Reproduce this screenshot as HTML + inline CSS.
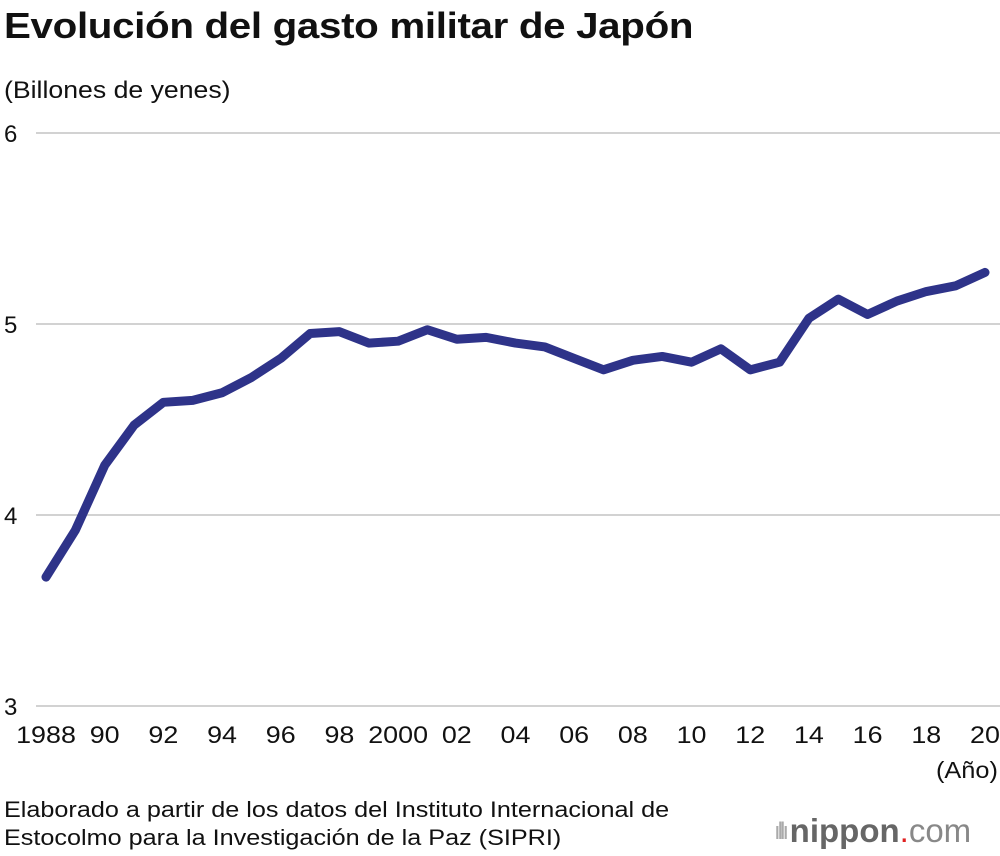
<!DOCTYPE html>
<html><head><meta charset="utf-8"><style>
body{margin:0;width:1000px;height:856px;background:#fff;font-family:"Liberation Sans",sans-serif;overflow:hidden;position:relative}
.t{position:absolute;color:#111;transform-origin:left top;white-space:nowrap}
</style></head><body>
<div class="t" style="left:4px;top:5px;font-size:36px;font-weight:bold;letter-spacing:-0.3px;transform:scaleX(1.12)">Evolución del gasto militar de Japón</div>
<div class="t" style="left:4px;top:77px;font-size:24px;transform:scaleX(1.11)">(Billones de yenes)</div>
<div class="t" style="left:936px;top:757px;font-size:23px;transform:scaleX(1.1)">(Año)</div>
<div class="t" style="left:4px;top:796px;font-size:22px;line-height:28px;transform:scaleX(1.145)">Elaborado a partir de los datos del Instituto Internacional de<br>Estocolmo para la Investigación de la Paz (SIPRI)</div>
<div style="position:absolute;left:774px;top:812px;font-size:33px;color:#666;white-space:nowrap"><span style="color:#aaa;font-size:24px;letter-spacing:-3px;vertical-align:3px">ıllı </span><b>nippon</b><span style="color:#e02020">.</span><span style="color:#888">com</span></div>
<svg id="chart" width="1000" height="856" style="position:absolute;left:0;top:0"></svg>
<script>
const years=[1988,1989,1990,1991,1992,1993,1994,1995,1996,1997,1998,1999,2000,2001,2002,2003,2004,2005,2006,2007,2008,2009,2010,2011,2012,2013,2014,2015,2016,2017,2018,2019,2020];
const values=[3.675,3.92,4.26,4.47,4.59,4.60,4.64,4.72,4.82,4.95,4.96,4.90,4.91,4.97,4.92,4.93,4.90,4.88,4.82,4.76,4.81,4.83,4.80,4.87,4.76,4.80,5.03,5.13,5.05,5.12,5.17,5.20,5.27];
const yTicks=[3,4,5,6];
const xTickYears=[1988,1990,1992,1994,1996,1998,2000,2002,2004,2006,2008,2010,2012,2014,2016,2018,2020];
const xTickLabels=["1988","90","92","94","96","98","2000","02","04","06","08","10","12","14","16","18","20"];
const ns="http://www.w3.org/2000/svg";
const svg=document.getElementById('chart');
const x=v=>46+(v-1988)*(985-46)/32;
const y=v=>706-(v-3)*191;
function mk(t,a){const e=document.createElementNS(ns,t);for(const k in a)e.setAttribute(k,a[k]);svg.appendChild(e);return e;}
yTicks.forEach(v=>{
 const l=mk('line',{x1:36,x2:1000,y1:y(v),y2:y(v),stroke:'#c4c4c4','stroke-width':1.5});
 
 
 const t=mk('text',{x:4,y:y(v)+9,'font-size':24,fill:'#111','font-family':'Liberation Sans'});
 t.textContent=v;
 
 
});
xTickYears.forEach((v,i)=>{
 const t=mk('text',{x:0,y:0,'font-size':24,fill:'#111','text-anchor':'middle','font-family':'Liberation Sans',transform:'translate('+x(v)+',743) scale(1.12,1)'});
 t.textContent=xTickLabels[i];
 
 
});
const p=mk('polyline',{points:years.map((yr,i)=>x(yr)+','+y(values[i])).join(' '),fill:'none',stroke:'#2e3389','stroke-width':9,'stroke-linejoin':'round','stroke-linecap':'round'});


</script>
</body></html>
